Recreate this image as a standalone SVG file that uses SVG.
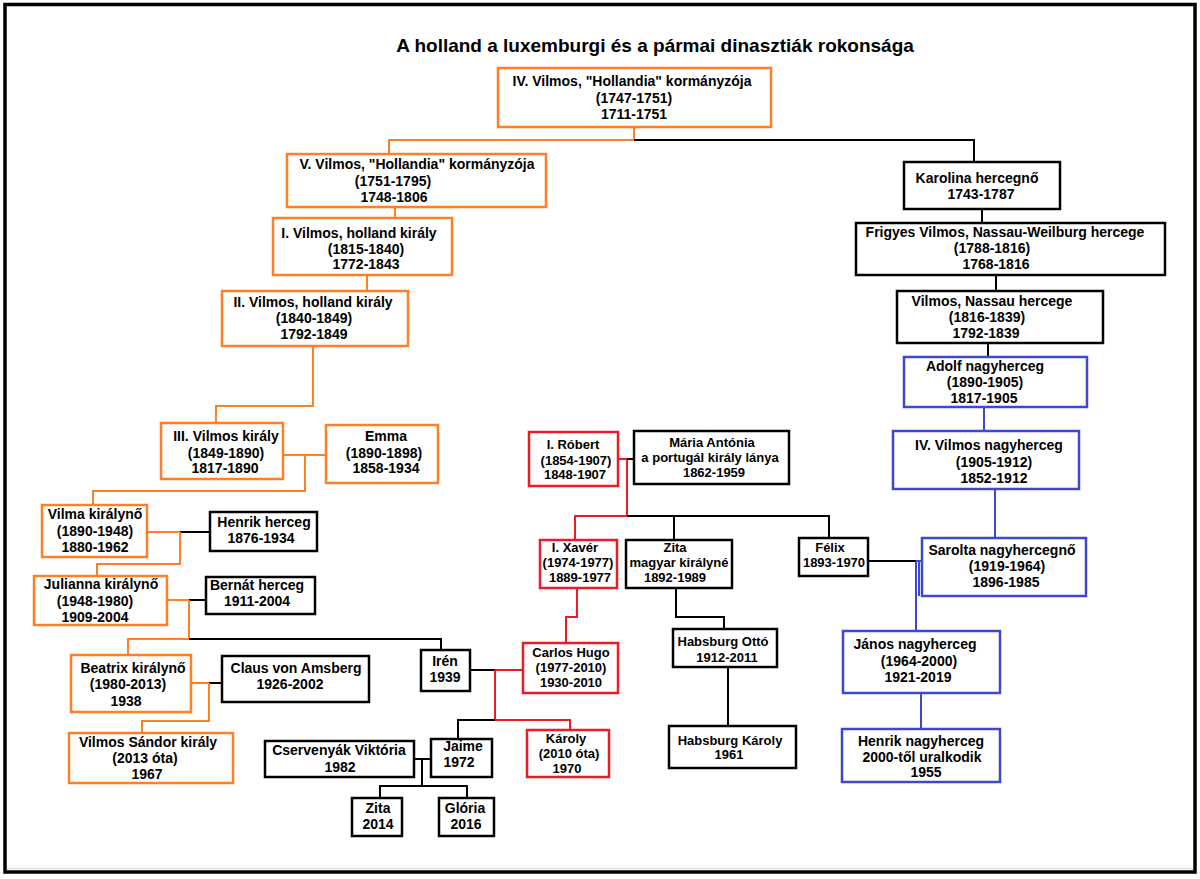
<svg xmlns="http://www.w3.org/2000/svg" width="1200" height="879" viewBox="0 0 1200 879">
<style>
text{font-family:"Liberation Sans",Arial,sans-serif;font-weight:bold;font-size:14px;text-anchor:middle;fill:#000}
.s text{font-size:13px}
.title{font-size:19px}
rect.o{fill:#fff;stroke:#FF7F27;stroke-width:2.5}
rect.k{fill:#fff;stroke:#000;stroke-width:2.5}
rect.r{fill:#fff;stroke:#ED1C24;stroke-width:2.5}
rect.b{fill:#fff;stroke:#3F48CC;stroke-width:2.5}
#connectors polyline,#connectors line{fill:none;stroke-width:2}
.co{stroke:#FF7F27}.ck{stroke:#000}.cr{stroke:#ED1C24}.cb{stroke:#3F48CC}
</style>
<rect x="0" y="0" width="1200" height="879" fill="#fff"/>
<rect x="5" y="4.5" width="1190" height="867.5" fill="#fff" stroke="#000" stroke-width="3.5"/>
<line x1="7" y1="868.5" x2="1193" y2="868.5" stroke="#ddd" stroke-width="1.5"/>
<text class="title" x="655" y="52">A holland a luxemburgi és a pármai dinasztiák rokonsága</text>
<g id="connectors">
<polyline class="co" points="634,127 634,140 389,140 389,154"/>
<polyline class="ck" points="634,140 974,140 974,162"/>
<line class="co" x1="395" y1="207" x2="395" y2="218"/>
<line class="co" x1="367" y1="275" x2="367" y2="291"/>
<polyline class="co" points="313,346 313,406 216,406 216,423"/>
<line class="co" x1="283" y1="455" x2="326" y2="455"/>
<polyline class="co" points="305,455 305,491 93,491 93,505"/>
<line class="co" x1="147" y1="532" x2="180" y2="532"/>
<line class="ck" x1="180" y1="532" x2="210" y2="532"/>
<polyline class="co" points="180,532 180,564 97,564 97,576"/>
<line class="co" x1="167" y1="600" x2="189" y2="600"/>
<line class="ck" x1="189" y1="600" x2="206" y2="600"/>
<polyline class="co" points="189,600 189,639 128,639 128,655"/>
<polyline class="ck" points="189,639 441,639 441,650"/>
<line class="co" x1="191" y1="683" x2="209" y2="683"/>
<line class="ck" x1="209" y1="683" x2="222" y2="683"/>
<polyline class="co" points="209,683 209,721 142,721 142,733"/>
<line class="ck" x1="470" y1="670" x2="495" y2="670"/>
<line class="cr" x1="495" y1="670" x2="523" y2="670"/>
<polyline class="cr" points="495,670 495,720 570,720 570,730"/>
<polyline class="ck" points="495,720 458,720 458,739"/>
<line class="ck" x1="414" y1="759" x2="431" y2="759"/>
<line class="ck" x1="422" y1="759" x2="422" y2="786"/>
<polyline class="ck" points="380,798 380,786 467,786 467,798"/>
<polyline class="cr" points="618,459 627,459 627,516 575,516 575,540"/>
<line class="ck" x1="627" y1="459" x2="634" y2="459"/>
<polyline class="ck" points="627,516 829,516 829,538"/>
<line class="ck" x1="674" y1="516" x2="674" y2="540"/>
<polyline class="cr" points="577,588 577,617 566,617 566,643"/>
<polyline class="ck" points="676,588 676,617 724,617 724,629"/>
<line class="ck" x1="728" y1="667" x2="728" y2="726"/>
<line class="ck" x1="982" y1="209" x2="982" y2="223"/>
<line class="ck" x1="996" y1="275" x2="996" y2="291"/>
<line class="ck" x1="988" y1="343" x2="988" y2="357"/>
<line class="cb" x1="984" y1="407" x2="984" y2="431"/>
<line class="cb" x1="995" y1="489" x2="995" y2="538"/>
<line class="ck" x1="868" y1="561" x2="916" y2="561"/>
<line class="cb" x1="916" y1="561" x2="922" y2="561"/>
<line class="cb" x1="916" y1="561" x2="916" y2="631"/>
<line class="cb" x1="919" y1="561" x2="919" y2="596"/>
<line class="cb" x1="921" y1="693" x2="921" y2="729"/>
</g>
<g id="n-iv-vilmos"><rect class="o" x="498" y="68" width="273" height="59"/><text x="632" y="86">IV. Vilmos, "Hollandia" kormányzója</text><text x="634" y="103">(1747-1751)</text><text x="634" y="119">1711-1751</text></g>
<g id="n-v-vilmos"><rect class="o" x="287" y="154" width="259" height="53"/><text x="417" y="169">V. Vilmos, "Hollandia" kormányzója</text><text x="393" y="186">(1751-1795)</text><text x="394" y="202">1748-1806</text></g>
<g id="n-i-vilmos"><rect class="o" x="273" y="218" width="179" height="57"/><text x="359" y="238">I. Vilmos, holland király</text><text x="366" y="254">(1815-1840)</text><text x="366" y="269">1772-1843</text></g>
<g id="n-ii-vilmos"><rect class="o" x="222" y="291" width="186" height="55"/><text x="313" y="307">II. Vilmos, holland király</text><text x="314" y="323">(1840-1849)</text><text x="314" y="339">1792-1849</text></g>
<g id="n-iii-vilmos"><rect class="o" x="161" y="423" width="122" height="56"/><text x="226" y="441">III. Vilmos király</text><text x="226" y="458">(1849-1890)</text><text x="225" y="473">1817-1890</text></g>
<g id="n-emma"><rect class="o" x="326" y="425" width="112" height="58"/><text x="386" y="441">Emma</text><text x="384" y="458">(1890-1898)</text><text x="386" y="473">1858-1934</text></g>
<g id="n-vilma"><rect class="o" x="42" y="505" width="105" height="52"/><text x="95" y="519">Vilma királynő</text><text x="95" y="536">(1890-1948)</text><text x="95" y="552">1880-1962</text></g>
<g id="n-henrik-herceg"><rect class="k" x="210" y="512" width="107" height="39"/><text x="264" y="527">Henrik herceg</text><text x="261" y="543">1876-1934</text></g>
<g id="n-julianna"><rect class="o" x="34" y="576" width="133" height="49"/><text x="101" y="589">Julianna királynő</text><text x="95" y="606">(1948-1980)</text><text x="95" y="622">1909-2004</text></g>
<g id="n-bernat"><rect class="k" x="206" y="577" width="109" height="37"/><text x="257" y="590">Bernát herceg</text><text x="257" y="606">1911-2004</text></g>
<g id="n-beatrix"><rect class="o" x="71" y="655" width="120" height="57"/><text x="133" y="673">Beatrix királynő</text><text x="128" y="689">(1980-2013)</text><text x="126" y="706">1938</text></g>
<g id="n-claus"><rect class="k" x="222" y="656" width="147" height="46"/><text x="296" y="673">Claus von Amsberg</text><text x="290" y="689">1926-2002</text></g>
<g id="n-vilmos-sandor"><rect class="o" x="69" y="733" width="164" height="50"/><text x="148" y="747">Vilmos Sándor király</text><text x="145" y="763">(2013 óta)</text><text x="147" y="779">1967</text></g>
<g id="n-iren"><rect class="k" x="421" y="650" width="49" height="41"/><text x="445" y="666">Irén</text><text x="445" y="682">1939</text></g>
<g id="n-cservenyak"><rect class="k" x="265" y="741" width="149" height="36"/><text x="339" y="755">Cservenyák Viktória</text><text x="340" y="772">1982</text></g>
<g id="n-jaime"><rect class="k" x="431" y="739" width="61" height="38"/><text x="463" y="751">Jaime</text><text x="459" y="767">1972</text></g>
<g id="n-zita-2014"><rect class="k" x="352" y="798" width="50" height="38"/><text x="378" y="813">Zita</text><text x="378" y="829">2014</text></g>
<g id="n-gloria"><rect class="k" x="439" y="798" width="55" height="38"/><text x="465" y="813">Glória</text><text x="466" y="829">2016</text></g>
<g class="s">
<g id="n-robert"><rect class="r" x="529" y="432" width="89" height="54"/><text x="573" y="449">I. Róbert</text><text x="576" y="465">(1854-1907)</text><text x="575" y="479">1848-1907</text></g>
<g id="n-maria-antonia"><rect class="k" x="634" y="431" width="155" height="53"/><text x="712" y="447">Mária Antónia</text><text x="710" y="462">a portugál király lánya</text><text x="714" y="477">1862-1959</text></g>
<g id="n-xaver"><rect class="r" x="540" y="540" width="77" height="48"/><text x="575" y="552">I. Xavér</text><text x="578" y="567">(1974-1977)</text><text x="580" y="582">1889-1977</text></g>
<g id="n-zita-kiralyne"><rect class="k" x="626" y="540" width="106" height="48"/><text x="675" y="552">Zita</text><text x="679" y="567">magyar királyné</text><text x="675" y="582">1892-1989</text></g>
<g id="n-felix"><rect class="k" x="799" y="538" width="69" height="38"/><text x="830" y="552">Félix</text><text x="834" y="567">1893-1970</text></g>
<g id="n-carlos-hugo"><rect class="r" x="523" y="643" width="95" height="50"/><text x="571" y="657">Carlos Hugo</text><text x="571" y="672">(1977-2010)</text><text x="571" y="687">1930-2010</text></g>
<g id="n-karoly"><rect class="r" x="527" y="730" width="82" height="47"/><text x="566" y="743">Károly</text><text x="569" y="758">(2010 óta)</text><text x="567" y="773">1970</text></g>
<g id="n-otto"><rect class="k" x="673" y="629" width="104" height="38"/><text x="723" y="646">Habsburg Ottó</text><text x="727" y="662">1912-2011</text></g>
<g id="n-habsburg-karoly"><rect class="k" x="669" y="726" width="127" height="42"/><text x="730" y="745">Habsburg Károly</text><text x="729" y="759">1961</text></g>
</g>
<g id="n-karolina"><rect class="k" x="904" y="162" width="156" height="47"/><text x="977" y="183">Karolina hercegnő</text><text x="981" y="199">1743-1787</text></g>
<g id="n-frigyes"><rect class="k" x="856" y="223" width="309" height="52"/><text x="1005" y="237">Frigyes Vilmos, Nassau-Weilburg hercege</text><text x="992" y="253">(1788-1816)</text><text x="996" y="269">1768-1816</text></g>
<g id="n-vilmos-nassau"><rect class="k" x="897" y="291" width="206" height="52"/><text x="992" y="306">Vilmos, Nassau hercege</text><text x="987" y="322">(1816-1839)</text><text x="986" y="338">1792-1839</text></g>
<g id="n-adolf"><rect class="b" x="904" y="357" width="183" height="50"/><text x="985" y="371">Adolf nagyherceg</text><text x="985" y="387">(1890-1905)</text><text x="984" y="403">1817-1905</text></g>
<g id="n-iv-vilmos-nh"><rect class="b" x="893" y="431" width="186" height="58"/><text x="989" y="450">IV. Vilmos nagyherceg</text><text x="994" y="467">(1905-1912)</text><text x="994" y="483">1852-1912</text></g>
<g id="n-sarolta"><rect class="b" x="922" y="538" width="164" height="58"/><text x="1002" y="555">Sarolta nagyhercegnő</text><text x="1007" y="571">(1919-1964)</text><text x="1006" y="587">1896-1985</text></g>
<g id="n-janos"><rect class="b" x="843" y="631" width="157" height="62"/><text x="915" y="649">János nagyherceg</text><text x="919" y="666">(1964-2000)</text><text x="918" y="682">1921-2019</text></g>
<g id="n-henrik-nh"><rect class="b" x="842" y="729" width="158" height="53"/><text x="921" y="746">Henrik nagyherceg</text><text x="922" y="762">2000-től uralkodik</text><text x="926" y="777">1955</text></g>
</svg>
